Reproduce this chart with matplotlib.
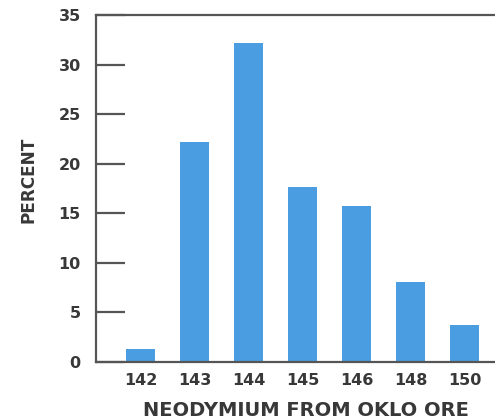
import numpy as np
import matplotlib.pyplot as plt

isotopes = ["142", "143", "144", "145", "146", "148", "150"]
percent = [1.3, 22.2, 32.2, 17.7, 15.7, 8.1, 3.7]

plt.rcParams['font.family'] = ['DejaVu Sans']
plt.rcParams['font.weight'] = 'bold'

fig = plt.figure(figsize=(4.95, 4.19), dpi=100)
ax = fig.add_axes([0.194, 0.136, 0.806, 0.828])

x = np.arange(len(isotopes))
ax.bar(x, percent, width=0.54, color='#4a9de0')

ax.set_xlim(-0.83, 6.56)
ax.set_ylim(0, 35)
ax.set_yticks([0, 5, 10, 15, 20, 25, 30, 35])
ax.set_xticks(x)
ax.set_xticklabels(isotopes)

ax.spines['right'].set_visible(False)
for s in ['left', 'top', 'bottom']:
    ax.spines[s].set_color('#555555')
    ax.spines[s].set_linewidth(1.6)

ax.tick_params(axis='y', direction='in', length=21, width=1.6, color='#555555',
               labelsize=11.5, labelcolor='#383838', pad=11)
ax.tick_params(axis='x', length=0, labelsize=11.5, labelcolor='#383838', pad=8)

ax.set_ylabel("PERCENT", fontsize=12.2, fontweight='bold', color='#383838',
              labelpad=15, y=0.525)
ax.set_xlabel("NEODYMIUM FROM OKLO ORE", fontsize=14, fontweight='bold',
              color='#383838', labelpad=9, x=0.527)

plt.savefig('out.png', dpi=100)
